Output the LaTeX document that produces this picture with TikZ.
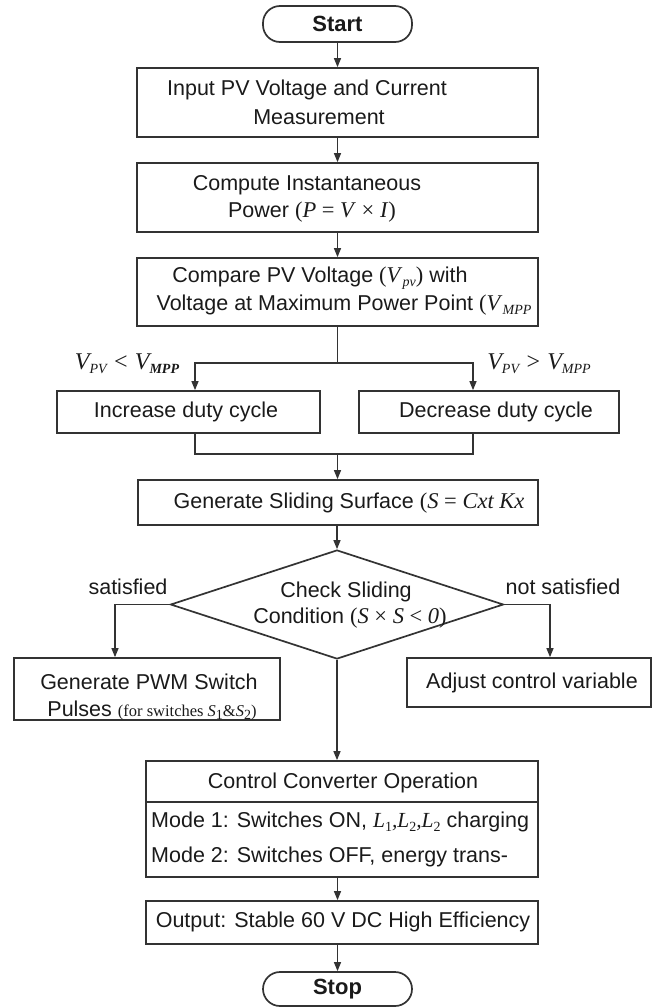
\documentclass[tikz,border=0pt]{standalone}
\usepackage{fontspec}
\setmainfont{Liberation Sans}
\newfontfamily\tms{Liberation Serif}
\usetikzlibrary{shapes.geometric,arrows.meta,calc}

\definecolor{linec}{HTML}{333333}
\definecolor{inkc}{HTML}{1A1A1A}
% italic serif symbols and their subscripts
\newcommand{\mvar}[1]{{\tms\itshape #1}}
\newcommand{\sbs}[1]{\raisebox{-0.4ex}{\fontsize{14}{14}\selectfont #1}}

\begin{document}
\begin{tikzpicture}[x=1pt,y=-1pt,
  box/.style={draw=linec,line width=1.7pt,inner sep=0pt,rectangle},
  term/.style={box,rounded corners=17pt},
  conn/.style={draw=linec,line width=1.3pt},
  arr/.style={conn,-{Triangle[length=9pt,width=7pt]}},
  txt/.style={inner sep=0pt,text=inkc,font=\fontsize{21.5}{26}\selectfont},
  bold/.style={txt,font=\fontsize{22}{26}\selectfont\bfseries}]
\useasboundingbox (0,0) rectangle (656,1007);

% process boxes
\node[term,minimum width=149pt,minimum height=36pt] (start) at (337.5,24) {};
\node[box,minimum width=401pt,minimum height=69pt] (b1) at (337.5,102.5) {};
\node[box,minimum width=401pt,minimum height=69pt] (b2) at (337.5,197.5) {};
\node[box,minimum width=401pt,minimum height=68pt] (b3) at (337.5,292) {};
\node[box,minimum width=263pt,minimum height=42pt] (inc) at (188.5,412) {};
\node[box,minimum width=260pt,minimum height=42pt] (dec) at (489,412) {};
\node[box,minimum width=400pt,minimum height=45pt] (slide) at (338,502.5) {};
\node[draw=linec,line width=1.7pt,diamond,inner sep=0pt,
      minimum width=333pt,minimum height=109pt] (cond) at (337,604.5) {};
\node[box,minimum width=266pt,minimum height=62pt] (pwm) at (147,689) {};
\node[box,minimum width=244pt,minimum height=49pt] (adj) at (529,682.5) {};
\node[box,minimum width=392pt,minimum height=116pt] (ctrl) at (342,819) {};
\node[box,minimum width=392pt,minimum height=43pt] (out) at (342,922.5) {};
\node[term,minimum width=149pt,minimum height=34pt] (stop) at (337.5,989) {};
\draw[conn,line width=1.7pt] ($(ctrl.north west)+(0,42)$) -- ($(ctrl.north east)+(0,42)$);

% texts
\node[bold] (tstart) at (337.5,24) {Start};
\node[txt] (t1a) at (307,90) {Input PV Voltage and Current};
\node[txt] (t1b) at (319,117) {Measurement};
\node[txt] (t2a) at (307,185) {Compute Instantaneous};
\node[txt] (t2b) at (312,212) {Power {\tms\fontsize{22.5}{26}\selectfont(\textit{P} = \textit{V} × \textit{I})}};
\node[txt] (t3a) at (320,278) {Compare PV Voltage {\tms\fontsize{22.5}{26}\selectfont(\textit{V}\sbs{\textit{pv}})} with};
\node[txt] (t3b) at (344,305) {Voltage at Maximum Power Point {\tms\fontsize{22.5}{26}\selectfont(\textit{V}\sbs{\textit{MPP}}}};
\node[txt,font=\fontsize{24}{26}\selectfont] (lab1) at (127,364) {\mvar{V\sbs{PV} < V\sbs{\bfseries MPP}}};
\node[txt,font=\fontsize{24}{26}\selectfont] (lab2) at (539,364) {\mvar{V\sbs{PV} > V\sbs{MPP}}};
\node[txt] (tinc) at (186,412) {Increase duty cycle};
\node[txt] (tdec) at (496,412) {Decrease duty cycle};
\node[txt] (tsl) at (349,503) {Generate Sliding Surface {\tms\fontsize{22.5}{26}\selectfont(\textit{S} = \textit{Cxt Kx}}};
\node[txt] (tc1) at (346,592) {Check Sliding};
\node[txt] (tc2) at (350,618) {Condition {\tms\fontsize{22.5}{26}\selectfont(\textit{S} × \textit{S} < \textit{0})}};
\node[txt] (ys) at (128,587) {satisfied};
\node[txt] (ns) at (563,587) {not satisfied};
\node[txt] (tp1) at (149,682) {Generate PWM Switch};
\node[txt] (tp2) at (152,710) {Pulses {\tms\fontsize{16.5}{17}\selectfont (for switches \textit{S}\sbs{1}\&\textit{S}\sbs{2})}};
\node[txt] (tadj) at (532,683) {Adjust control variable};
\node[txt] (tct) at (343,783) {Control Converter Operation};
\node[txt,anchor=west] (tm1) at (151,822) {Mode 1: Switches ON, \mvar{L\sbs{\upshape 1},L\sbs{\upshape 2},L\sbs{\upshape 2}} charging};
\node[txt,anchor=west] (tm2) at (151,857) {Mode 2: Switches OFF, energy trans-};
\node[txt] (tout) at (343,922) {Output: Stable 60 V DC High Efficiency};
\node[bold] (tstop) at (337.5,989) {Stop};

% connectors
\draw[arr] (start.south) -- (b1.north);
\draw[arr] (b1.south) -- (b2.north);
\draw[arr] (b2.south) -- (b3.north);
\coordinate (split) at (337.5,363);
\draw[conn] (b3.south) -- (split);
\draw[arr] (split) -| ([xshift=6.5pt]inc.north);
\draw[arr] (split) -| ([xshift=-16pt]dec.north);
\coordinate (merge) at (337.5,454);
\draw[conn] ([xshift=6.5pt]inc.south) |- (merge);
\draw[conn] ([xshift=-16pt]dec.south) |- (merge);
\draw[arr] (merge) -- (slide.north -| merge);
\draw[arr] (slide.south -| cond.north) -- (cond.north);
\draw[arr] (cond.west) -| ([xshift=-32pt]pwm.north);
\draw[arr] (cond.east) -| ([xshift=21pt]adj.north);
\draw[arr] (cond.south) -- (cond.south |- ctrl.north);
\draw[arr] (ctrl.south -| start) -- (out.north -| start);
\draw[arr] (out.south -| start) -- (stop.north);
\end{tikzpicture}
\end{document}
